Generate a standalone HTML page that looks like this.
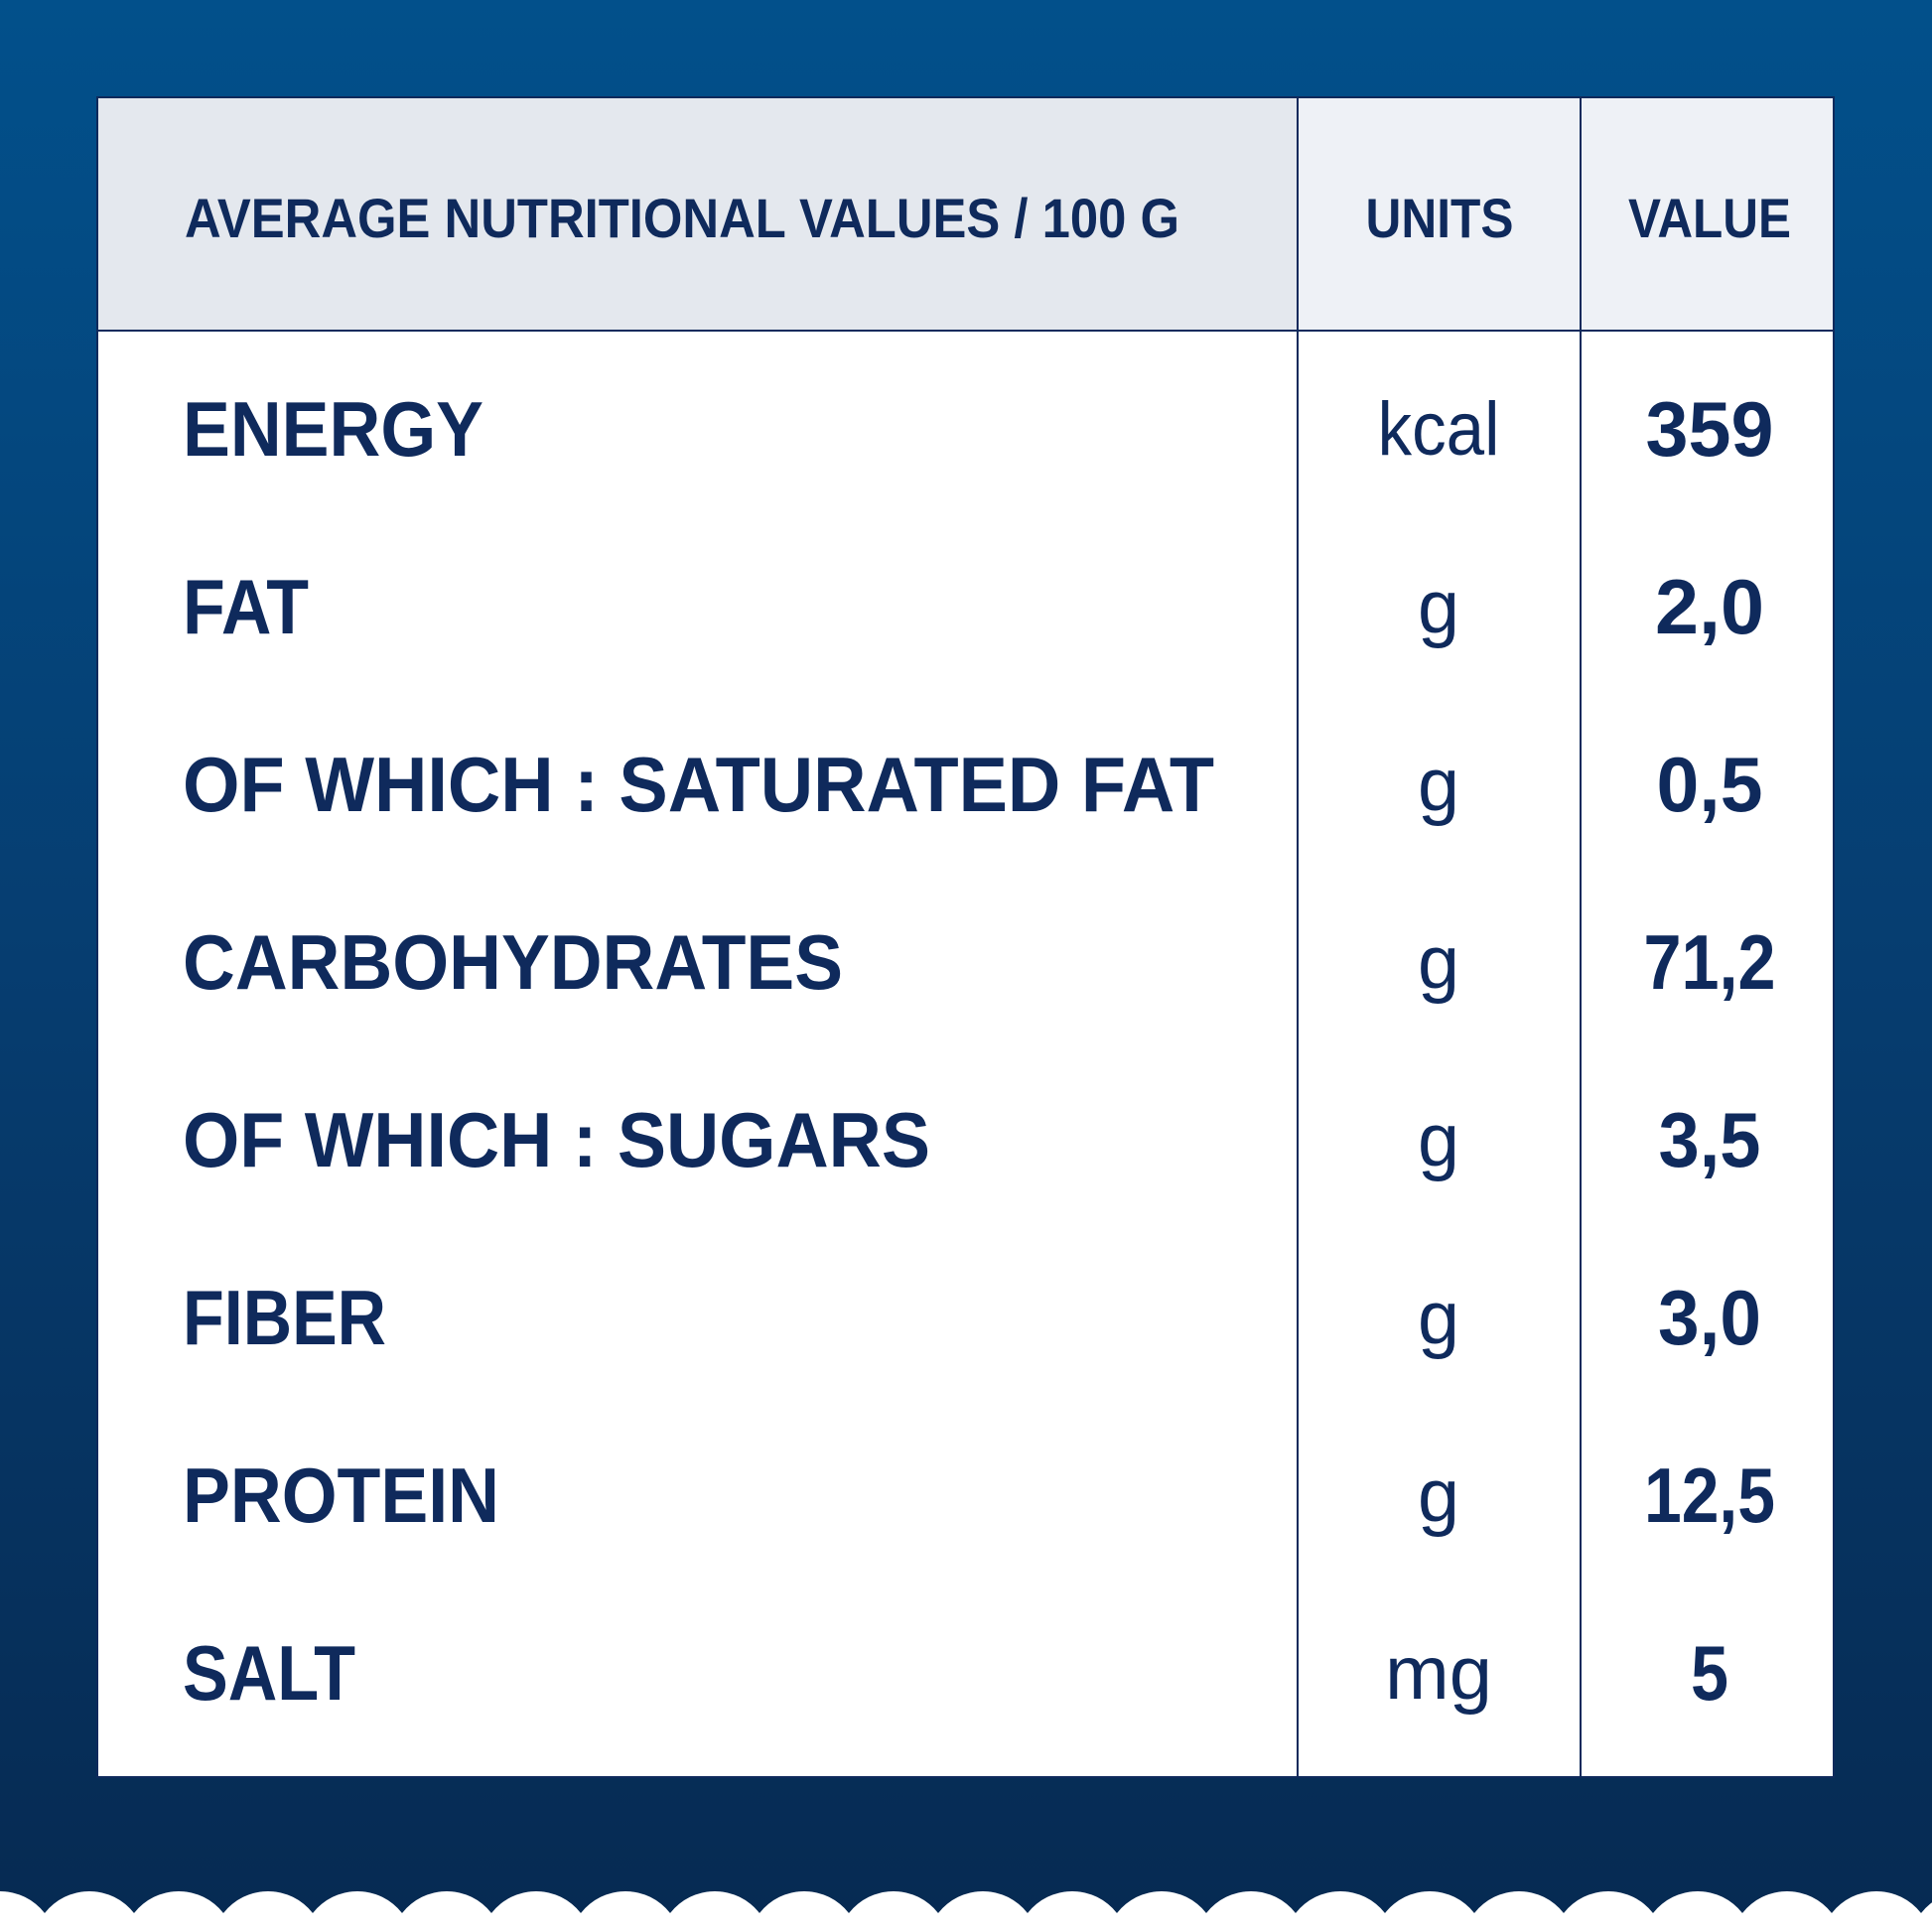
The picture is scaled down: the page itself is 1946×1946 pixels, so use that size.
<!DOCTYPE html>
<html><head><meta charset="utf-8"><style>
html,body{margin:0;padding:0;}
body{width:1946px;height:1946px;overflow:hidden;}
svg{display:block;}
</style></head><body>
<svg width="1946" height="1946" viewBox="0 0 1946 1946" xmlns="http://www.w3.org/2000/svg">
<defs>
<linearGradient id="bg" x1="0" y1="0" x2="0" y2="1">
<stop offset="0" stop-color="#02508b"/>
<stop offset="0.5" stop-color="#063d70"/>
<stop offset="1" stop-color="#062a52"/>
</linearGradient>
</defs>
<rect width="1946" height="1946" fill="url(#bg)"/>
<path d="M-45 1946 L-45 1927 A57 57 0 0 1 45 1927 A57 57 0 0 1 135 1927 A57 57 0 0 1 225 1927 A57 57 0 0 1 315 1927 A57 57 0 0 1 405 1927 A57 57 0 0 1 495 1927 A57 57 0 0 1 585 1927 A57 57 0 0 1 675 1927 A57 57 0 0 1 765 1927 A57 57 0 0 1 855 1927 A57 57 0 0 1 945 1927 A57 57 0 0 1 1035 1927 A57 57 0 0 1 1125 1927 A57 57 0 0 1 1215 1927 A57 57 0 0 1 1305 1927 A57 57 0 0 1 1395 1927 A57 57 0 0 1 1485 1927 A57 57 0 0 1 1575 1927 A57 57 0 0 1 1665 1927 A57 57 0 0 1 1755 1927 A57 57 0 0 1 1845 1927 A57 57 0 0 1 1935 1927 A57 57 0 0 1 2025 1927 L2025 1946 Z" fill="#ffffff"/>
<rect x="98" y="98" width="1749" height="1692" fill="#ffffff"/>
<rect x="98" y="98" width="1209" height="235" fill="#e4e8ee"/>
<rect x="1307" y="98" width="540" height="235" fill="#eef1f6"/>
<g stroke="#0f2a5c" stroke-width="2" fill="none">
<rect x="98" y="98" width="1749" height="1692"/>
<line x1="98" y1="333" x2="1847" y2="333"/>
<line x1="1307" y1="98" x2="1307" y2="1790"/>
<line x1="1592" y1="98" x2="1592" y2="1790"/>
</g>
<g fill="#0f2a5c" font-family="Liberation Sans, sans-serif" font-weight="bold">
<text x="186" y="239" font-size="56" textLength="1002" lengthAdjust="spacingAndGlyphs">AVERAGE NUTRITIONAL VALUES / 100 G</text>
<text x="1450" y="239" font-size="56" text-anchor="middle" textLength="149" lengthAdjust="spacingAndGlyphs">UNITS</text>
<text x="1722" y="239" font-size="56" text-anchor="middle" textLength="164" lengthAdjust="spacingAndGlyphs">VALUE</text>
<g font-size="78">
<text x="184" y="459" textLength="303" lengthAdjust="spacingAndGlyphs">ENERGY</text>
<text x="184" y="638" textLength="127" lengthAdjust="spacingAndGlyphs">FAT</text>
<text x="184" y="817" textLength="1039" lengthAdjust="spacingAndGlyphs">OF WHICH : SATURATED FAT</text>
<text x="184" y="996" textLength="665" lengthAdjust="spacingAndGlyphs">CARBOHYDRATES</text>
<text x="184" y="1175" textLength="753" lengthAdjust="spacingAndGlyphs">OF WHICH : SUGARS</text>
<text x="184" y="1354" textLength="205" lengthAdjust="spacingAndGlyphs">FIBER</text>
<text x="184" y="1533" textLength="319" lengthAdjust="spacingAndGlyphs">PROTEIN</text>
<text x="184" y="1712" textLength="174" lengthAdjust="spacingAndGlyphs">SALT</text>
</g>
<g font-size="78" text-anchor="middle">
<text x="1722" y="459" textLength="129" lengthAdjust="spacingAndGlyphs">359</text>
<text x="1722" y="638" textLength="110" lengthAdjust="spacingAndGlyphs">2,0</text>
<text x="1722" y="817" textLength="107" lengthAdjust="spacingAndGlyphs">0,5</text>
<text x="1722" y="996" textLength="133" lengthAdjust="spacingAndGlyphs">71,2</text>
<text x="1722" y="1175" textLength="103" lengthAdjust="spacingAndGlyphs">3,5</text>
<text x="1722" y="1354" textLength="104" lengthAdjust="spacingAndGlyphs">3,0</text>
<text x="1722" y="1533" textLength="132" lengthAdjust="spacingAndGlyphs">12,5</text>
<text x="1722" y="1712" textLength="38" lengthAdjust="spacingAndGlyphs">5</text>
</g>
</g>
<g fill="#0f2a5c" font-family="Liberation Sans, sans-serif" font-weight="normal" font-size="76" text-anchor="middle">
<text x="1449" y="458" textLength="123" lengthAdjust="spacingAndGlyphs">kcal</text>
<text x="1449" y="637" textLength="42" lengthAdjust="spacingAndGlyphs">g</text>
<text x="1449" y="816" textLength="42" lengthAdjust="spacingAndGlyphs">g</text>
<text x="1449" y="995" textLength="42" lengthAdjust="spacingAndGlyphs">g</text>
<text x="1449" y="1174" textLength="42" lengthAdjust="spacingAndGlyphs">g</text>
<text x="1449" y="1353" textLength="42" lengthAdjust="spacingAndGlyphs">g</text>
<text x="1449" y="1532" textLength="42" lengthAdjust="spacingAndGlyphs">g</text>
<text x="1449" y="1711" textLength="108" lengthAdjust="spacingAndGlyphs">mg</text>
</g>
</svg>
</body></html>
